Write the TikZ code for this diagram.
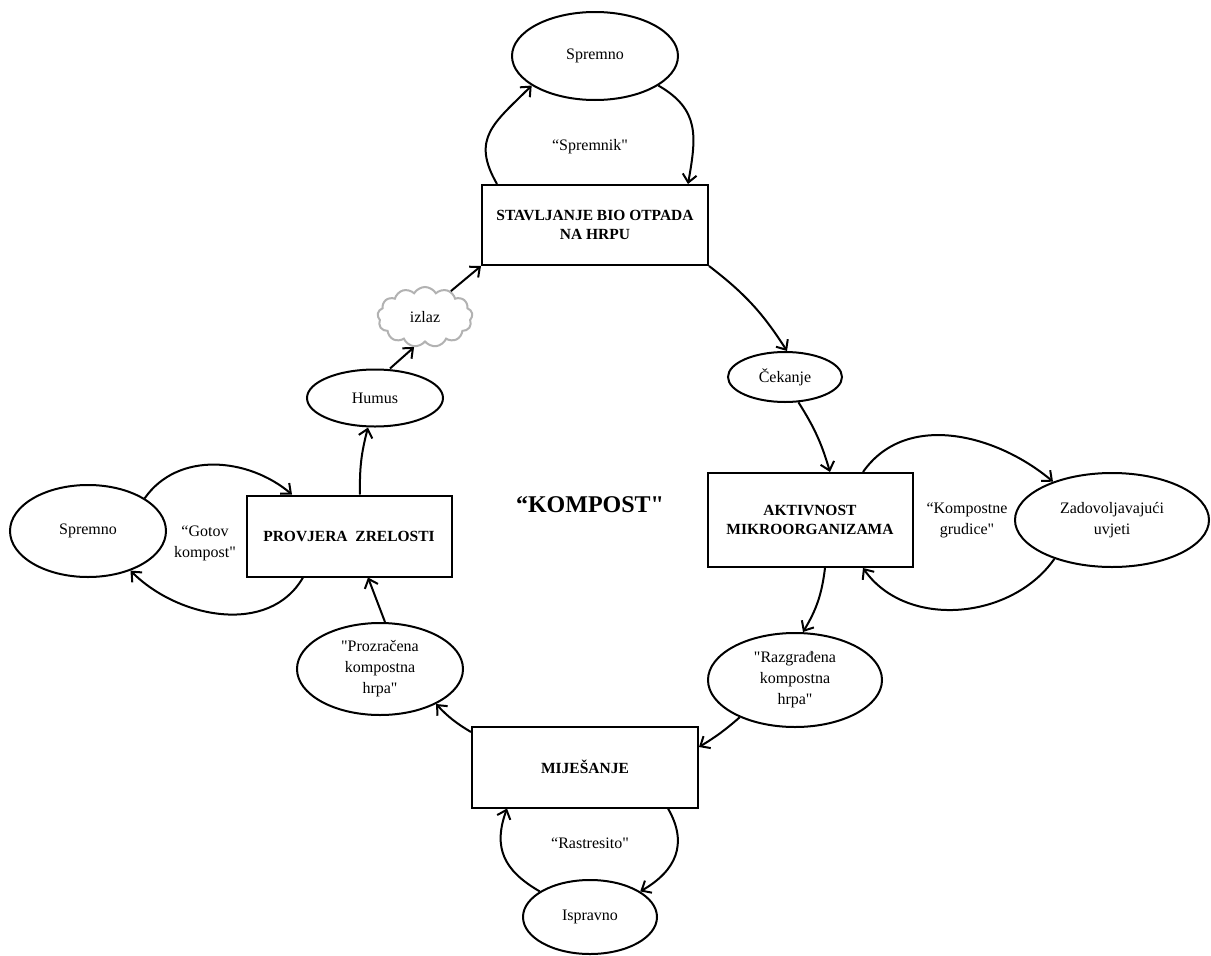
\documentclass[tikz,border=0pt]{standalone}
\usepackage{fontspec}
\setmainfont{Liberation Serif}[Ligatures=TeXOff]
\usetikzlibrary{shapes.geometric,shapes.symbols,arrows.meta}
\begin{document}
\begin{tikzpicture}[x=1pt,y=1pt,
  every node/.style={font=\fontsize{16}{21}\selectfont, align=center, inner sep=0pt},
  ell/.style={draw, ellipse, line width=2pt},
  box/.style={draw, rectangle, line width=2pt, font=\fontsize{15.5}{19}\selectfont\bfseries},
  conn/.style={line width=2pt, -{Straight Barb[length=8pt,width=14pt]}},
  cloudnode/.style={draw=gray!60, line width=2pt, cloud, cloud puffs=13, cloud puff arc=120, aspect=1.6, fill=white},
]
\useasboundingbox (0,0) rectangle (1211,-956);
\fill[white] (0,0) rectangle (1211,-956);

% nodes
\node[ell, minimum width=166pt, minimum height=88pt] (sp1) at (595,-56) {Spremno};
\node[box, minimum width=226pt, minimum height=80pt] (stav) at (595,-225) {STAVLJANJE BIO OTPADA\\NA HRPU};
\node (spremnik) at (590,-147) {“Spremnik"};
\node[ell, minimum width=114pt, minimum height=50pt] (cek) at (785,-377) {Čekanje};
\node[box, minimum width=205pt, minimum height=94pt] (akt) at (810,-520) {AKTIVNOST\\MIKROORGANIZAMA};
\node[ell, minimum width=194pt, minimum height=94pt] (zad) at (1112,-520) {Zadovoljavajući\\uvjeti};
\node (grud) at (967,-520) {“Kompostne\\grudice"};
\node[ell, minimum width=174pt, minimum height=94pt] (raz) at (795,-680) {"Razgrađena\\kompostna\\hrpa"};
\node[box, minimum width=226pt, minimum height=81pt] (mij) at (585,-767) {MIJEŠANJE};
\node[ell, minimum width=134pt, minimum height=74pt] (isp) at (590,-917) {Ispravno};
\node (rast) at (590,-843) {“Rastresito"};
\node[ell, minimum width=166pt, minimum height=92pt] (proz) at (380,-669) {"Prozračena\\kompostna\\hrpa"};
\node[box, minimum width=205pt, minimum height=81pt] (prov) at (349,-536) {PROVJERA\ \ ZRELOSTI};
\node[ell, minimum width=156pt, minimum height=92pt] (sp2) at (88,-531) {Spremno};
\node (gotov) at (205,-543) {“Gotov\\kompost"};
\node[ell, minimum width=136pt, minimum height=57pt] (humus) at (375,-398) {Humus};
\node[cloudnode, minimum width=95pt, minimum height=60pt] (izlaz) at (425,-317) {izlaz};
\node[font=\fontsize{24}{28}\selectfont\bfseries] (kompost) at (590,-505) {“KOMPOST"};

% connectors
\draw[conn] ([xshift=16pt]stav.north west) to[out=120,in=225,looseness=1.3] (sp1.205);
\draw[conn] (sp1.-25) to[out=-30,in=80,looseness=1.2] ([xshift=-21pt]stav.north east);
\draw[conn] (stav.south east) to[bend left=10] ([xshift=2pt]cek.north);
\draw[conn] (cek.-62) to[bend left=8] ([xshift=20pt]akt.north);
\draw[conn] ([xshift=53pt]akt.north) to[out=55,in=140] (zad.147);
\draw[conn] (zad.214) to[out=235,in=-55] ([xshift=53pt]akt.south);
\draw[conn] ([xshift=15pt]akt.south) to[bend left=12] ([xshift=8pt]raz.north);
\draw[conn] (raz.214) to[bend left=5] ([yshift=20pt]mij.east);
\draw[conn] ([yshift=35pt]mij.west) to[bend left=8] (proz.-32);
\draw[conn] ([xshift=83pt]mij.south) to[out=-60,in=30,looseness=1.2] (isp.27);
\draw[conn] (isp.153) to[out=150,in=-110,looseness=1.2] ([xshift=-78pt]mij.south);
\draw[conn] ([xshift=5pt]proz.north) -- ([xshift=19pt]prov.south);
\draw[conn] (sp2.30) to[out=55,in=140] ([xshift=-57pt]prov.north);
\draw[conn] ([xshift=-46pt]prov.south) to[out=-120,in=-45] (sp2.-43);
\draw[conn] ([xshift=11pt]prov.north) to[bend left=8] ([xshift=-7pt]humus.south);
\draw[conn] ([xshift=15pt]humus.north) -- (izlaz.250);
\draw[conn] (izlaz.45) -- (stav.south west);
\end{tikzpicture}
\end{document}
